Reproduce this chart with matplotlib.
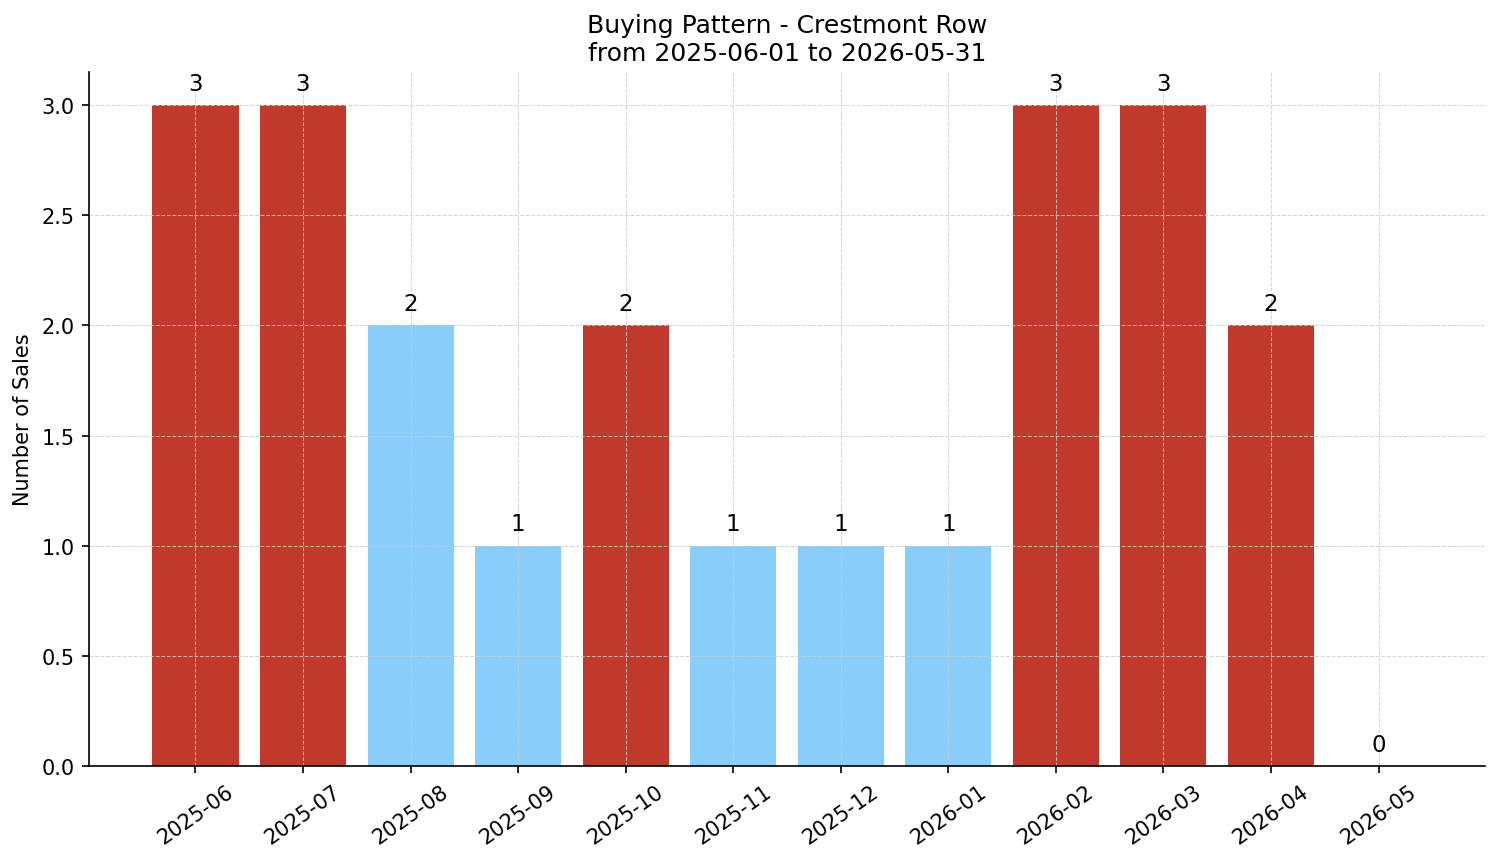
import matplotlib
matplotlib.use("Agg")
import matplotlib.pyplot as plt

months = ["2025-06", "2025-07", "2025-08", "2025-09", "2025-10", "2025-11",
          "2025-12", "2026-01", "2026-02", "2026-03", "2026-04", "2026-05"]
sales = [3, 3, 2, 1, 2, 1, 1, 1, 3, 3, 2, 0]
high_months = ["2025-06", "2025-07", "2025-10", "2026-02", "2026-03", "2026-04"]

colors = ["#c0392b" if m in high_months else "#87cefa" for m in months]

fig, ax = plt.subplots(figsize=(10.007, 5.753), dpi=150)
bars = ax.bar(months, sales, color=colors, width=0.8)

for bar, v in zip(bars, sales):
    ax.annotate(str(v), (bar.get_x() + bar.get_width() / 2, bar.get_height()),
                xytext=(0, 5), textcoords="offset points",
                ha="center", va="bottom", fontsize=11)

ax.set_title("Buying Pattern - Crestmont Row\nfrom 2025-06-01 to 2026-05-31", fontsize=12)
ax.set_ylabel("Number of Sales")
ax.grid(True, linestyle="--", linewidth=0.5, color="#cccccc", alpha=0.8)
ax.spines["top"].set_visible(False)
ax.spines["right"].set_visible(False)
plt.setp(ax.get_xticklabels(), rotation=35)

fig.subplots_adjust(left=0.0593, right=0.9893, top=0.9154, bottom=0.1112)
plt.savefig("out.png")
